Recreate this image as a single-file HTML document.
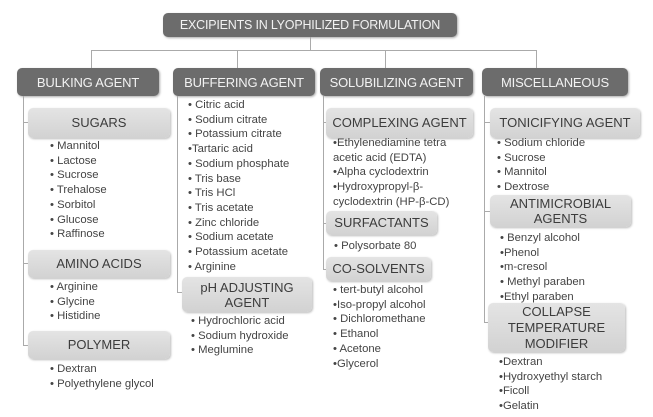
<!DOCTYPE html>
<html><head><meta charset="utf-8"><style>
body{margin:0;width:653px;height:417px;background:#fff;position:relative;overflow:hidden;font-family:"Liberation Sans",sans-serif;}
.h{position:absolute;background:#6c6c6c;color:#f2f2f2;border-radius:5px;display:flex;align-items:center;justify-content:center;font-size:13px;letter-spacing:-0.2px;box-shadow:1px 1px 2px #aaa;}
.s{position:absolute;background:linear-gradient(#e4e4e4,#d2d2d2);color:#3c3c3c;border-radius:5px;display:flex;align-items:center;justify-content:center;text-align:center;font-size:13px;line-height:16px;box-shadow:1px 1px 2px #bbb;}
.t{position:absolute;color:#444;font-size:11.3px;line-height:14.7px;white-space:nowrap;}
.l{position:absolute;background:#aaa;}
</style></head><body>
<div class="l" style="left:310px;top:37px;width:1px;height:13px"></div>
<div class="l" style="left:91px;top:50px;width:446px;height:1px"></div>
<div class="l" style="left:91px;top:50px;width:1px;height:18px"></div>
<div class="l" style="left:237px;top:50px;width:1px;height:18px"></div>
<div class="l" style="left:385px;top:50px;width:1px;height:18px"></div>
<div class="l" style="left:536px;top:50px;width:1px;height:18px"></div>
<div class="h" style="left:163px;top:13px;width:294px;height:24px;font-size:12.5px">EXCIPIENTS IN LYOPHILIZED FORMULATION</div>
<div class="h" style="left:17px;top:68px;width:142px;height:28px">BULKING AGENT</div>
<div class="h" style="left:173px;top:68px;width:142px;height:28px">BUFFERING AGENT</div>
<div class="h" style="left:320px;top:68px;width:153px;height:28px">SOLUBILIZING AGENT</div>
<div class="h" style="left:482px;top:68px;width:146px;height:28px">MISCELLANEOUS</div>

<div class="l" style="left:23px;top:96px;width:1px;height:249px"></div>
<div class="l" style="left:23px;top:122px;width:5px;height:1px"></div>
<div class="l" style="left:23px;top:263px;width:5px;height:1px"></div>
<div class="l" style="left:23px;top:345px;width:5px;height:1px"></div>
<div class="s" style="left:28px;top:108px;width:142px;height:30px">SUGARS</div>
<div class="t" style="left:50px;top:139px">• Mannitol<br>• Lactose<br>• Sucrose<br>• Trehalose<br>• Sorbitol<br>• Glucose<br>• Raffinose</div>
<div class="s" style="left:28px;top:250px;width:142px;height:28px">AMINO ACIDS</div>
<div class="t" style="left:50px;top:280px">• Arginine<br>• Glycine<br>• Histidine</div>
<div class="s" style="left:28px;top:331px;width:142px;height:28px">POLYMER</div>
<div class="t" style="left:50px;top:362px">• Dextran<br>• Polyethylene glycol</div>

<div class="l" style="left:177px;top:96px;width:1px;height:196px"></div>
<div class="l" style="left:177px;top:292px;width:5px;height:1px"></div>
<div class="t" style="left:188px;top:98px">• Citric acid<br>• Sodium citrate<br>• Potassium citrate<br>•Tartaric acid<br>• Sodium phosphate<br>• Tris base<br>• Tris HCl<br>• Tris acetate<br>• Zinc chloride<br>• Sodium acetate<br>• Potassium acetate<br>• Arginine</div>
<div class="s" style="left:182px;top:277px;width:130px;height:35px;line-height:15px">pH ADJUSTING<br>AGENT</div>
<div class="t" style="left:191px;top:314px">• Hydrochloric acid<br>• Sodium hydroxide<br>• Meglumine</div>

<div class="l" style="left:323px;top:96px;width:1px;height:174px"></div>
<div class="l" style="left:323px;top:122px;width:3px;height:1px"></div>
<div class="l" style="left:323px;top:223px;width:3px;height:1px"></div>
<div class="l" style="left:323px;top:269px;width:3px;height:1px"></div>
<div class="s" style="left:326px;top:108px;width:147px;height:30px">COMPLEXING AGENT</div>
<div class="t" style="left:333px;top:136px">•Ethylenediamine tetra<br>acetic acid (EDTA)<br>•Alpha cyclodextrin<br>•Hydroxypropyl-β-<br>cyclodextrin (HP-β-CD)</div>
<div class="s" style="left:326px;top:211px;width:111px;height:24px">SURFACTANTS</div>
<div class="t" style="left:334px;top:239px">• Polysorbate 80</div>
<div class="s" style="left:326px;top:257px;width:105px;height:24px">CO-SOLVENTS</div>
<div class="t" style="left:333px;top:283px">• tert-butyl alcohol<br>•Iso-propyl alcohol<br>• Dichloromethane<br>• Ethanol<br>• Acetone<br>•Glycerol</div>

<div class="l" style="left:484px;top:96px;width:1px;height:226px"></div>
<div class="l" style="left:484px;top:122px;width:6px;height:1px"></div>
<div class="l" style="left:484px;top:211px;width:6px;height:1px"></div>
<div class="l" style="left:484px;top:322px;width:4px;height:1px"></div>
<div class="s" style="left:490px;top:108px;width:150px;height:30px">TONICIFYING AGENT</div>
<div class="t" style="left:497px;top:136px">• Sodium chloride<br>• Sucrose<br>• Mannitol<br>• Dextrose</div>
<div class="s" style="left:490px;top:195px;width:141px;height:32px;line-height:15px">ANTIMICROBIAL<br>AGENTS</div>
<div class="t" style="left:500px;top:231px">• Benzyl alcohol<br>•Phenol<br>•m-cresol<br>• Methyl paraben<br>•Ethyl paraben</div>
<div class="s" style="left:488px;top:303px;width:137px;height:49px;line-height:16px">COLLAPSE<br>TEMPERATURE<br>MODIFIER</div>
<div class="t" style="left:499px;top:355px">•Dextran<br>•Hydroxyethyl starch<br>•Ficoll<br>•Gelatin</div>
</body></html>
